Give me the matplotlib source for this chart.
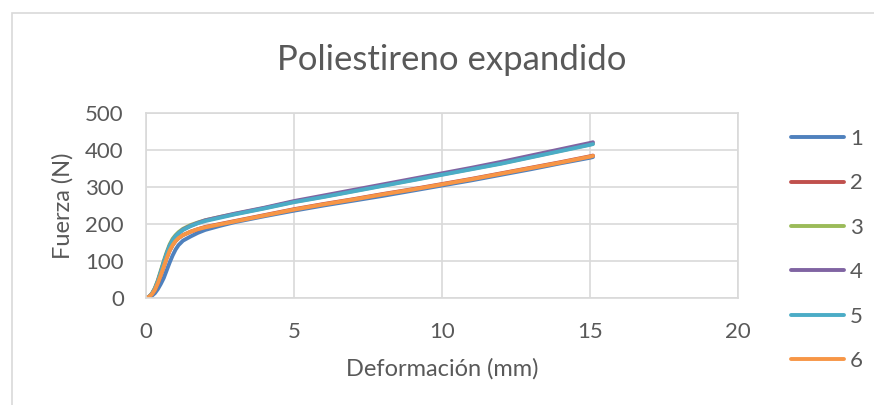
import matplotlib.pyplot as plt
from matplotlib.patches import Rectangle

# deformation (mm) and force (N) for the six samples
deform = [0, 0.1, 0.2, 0.3, 0.4, 0.5, 0.6, 0.7, 0.8, 0.9, 1.0, 1.1, 1.25, 1.5,
          1.75, 2, 2.5, 3, 3.5, 4, 5, 6, 7, 8, 9, 10, 11, 12, 13, 14, 15, 15.1]

f1 = [0, 2, 6, 13, 24, 38, 54, 75, 96, 115, 131, 143, 155, 166,
      176, 184, 195, 205, 213, 221, 236, 250, 263, 276, 290, 304, 318, 333, 348, 364, 379, 381]
f2 = [0, 3, 10, 22, 40, 62, 85, 108, 128, 143, 154, 162, 170, 179,
      186, 192, 200, 208, 216, 224, 240, 254, 267, 281, 294, 308, 322, 337, 352, 367, 383, 385]
f3 = [0, 3, 12, 27, 48, 74, 100, 124, 145, 160, 170, 178, 187, 197,
      204, 210, 219, 227, 235, 243, 260, 274, 289, 304, 319, 334, 349, 364, 381, 398, 415, 417]
f4 = [0, 3, 11, 25, 45, 70, 96, 120, 141, 156, 167, 175, 185, 195,
      203, 210, 219, 228, 236, 244, 262, 277, 292, 307, 322, 337, 352, 368, 385, 402, 419, 421]
f5 = [0, 3, 11, 25, 45, 70, 96, 120, 141, 156, 167, 175, 184, 194,
      202, 208, 217, 226, 234, 242, 259, 273, 288, 303, 318, 333, 348, 363, 380, 397, 414, 416]
f6 = [0, 3, 10, 22, 40, 62, 85, 108, 128, 143, 154, 162, 170, 179,
      186, 191, 199, 207, 215, 223, 239, 253, 266, 280, 293, 307, 321, 336, 351, 366, 382, 384]

series = [f1, f2, f3, f4, f5, f6]
labels = ['1', '2', '3', '4', '5', '6']
colors = ['#4F81BD', '#C0504D', '#9BBB59', '#8064A2', '#4BACC6', '#F79646']

plt.rcParams['font.family'] = ['Lato', 'DejaVu Sans']
grey = '#595959'
grid = '#d9d9d9'

fig = plt.figure(figsize=(8.74, 4.05), dpi=100)
fig.patches.append(Rectangle((12 / 874, -0.1), 1.0, 1 - 13 / 405 + 0.1,
                             transform=fig.transFigure, fill=False,
                             edgecolor=grid, linewidth=1.2))

ax = fig.add_axes([146 / 874, 1 - 298 / 405, 592 / 874, 185 / 405])
lines = []
for y, lab, c in zip(series, labels, colors):
    ln, = ax.plot(deform, y, color=c, lw=2.8, label=lab,
                  solid_capstyle='round', solid_joinstyle='round')
    lines.append(ln)

ax.set_xlim(0, 20)
ax.set_ylim(0, 500)
ax.set_xticks([0, 5, 10, 15, 20])
ax.set_yticks([0, 100, 200, 300, 400, 500])
ax.grid(True, color=grid, lw=1.2)
ax.set_axisbelow(True)
for s in ax.spines.values():
    s.set_color(grid)
    s.set_linewidth(1.2)
ax.tick_params(length=0, labelsize=16, colors=grey)
ax.tick_params(axis='x', pad=17)
ax.tick_params(axis='y', pad=16)

ax.set_xlabel('Deformación (mm)', fontsize=17, color=grey, labelpad=12)
ax.set_ylabel('Fuerza (N)', fontsize=17, color=grey, labelpad=8)
fig.text(452 / 874, 1 - 60 / 405, 'Poliestireno expandido', fontsize=25,
         color=grey, ha='center', va='center')

fig.legend(handles=lines, loc='upper left', bbox_to_anchor=(782 / 874, 1 - 120 / 405),
           frameon=False, fontsize=16, labelcolor=grey, handlelength=2.4,
           handletextpad=0.25, labelspacing=1.1, borderaxespad=0)

fig.savefig('out.png', dpi=100)
